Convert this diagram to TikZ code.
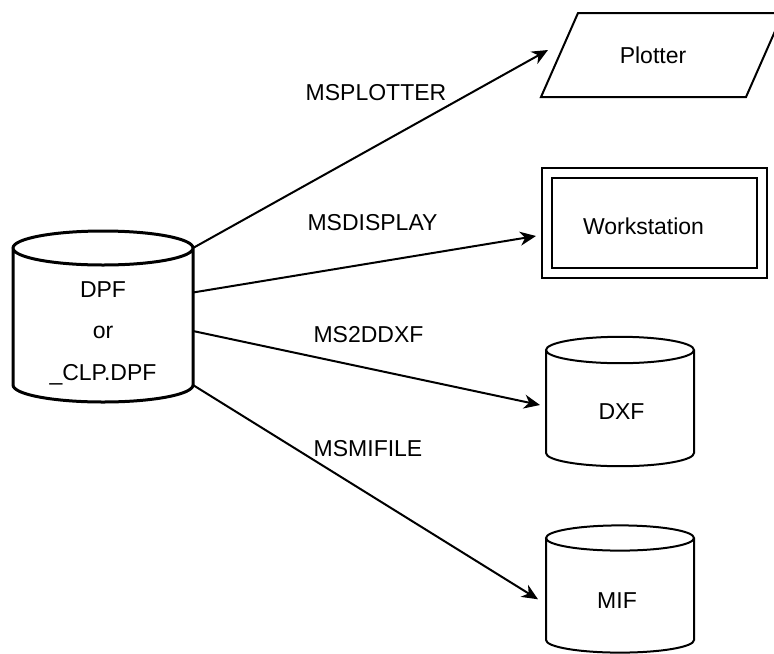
\documentclass[tikz,border=0pt]{standalone}
\usepackage{fontspec}
\setmainfont{Liberation Sans}
\usetikzlibrary{arrows.meta}

\tikzset{
  frame/.style={inner sep=0pt,outer sep=0pt},
  drum/.style={line width=1pt,fill=white},
  flow/.style={line width=1pt,-{Stealth[length=8pt,width=7pt,inset=2.5pt]}},
}

\begin{document}
\begin{tikzpicture}[x=0.5pt,y=-0.5pt,font=\fontsize{11.5}{13.8}\selectfont]
  \useasboundingbox (0,0) rectangle (774,653);
  % frames of the shapes
  \node[frame,minimum width=90pt,minimum height=68.5pt] (dpf) at (103,316.5) {};
  \node[frame,minimum width=102.5pt,minimum height=42pt] (plotter) at (662,55) {};
  \node[frame,draw,double,double distance=4pt,line width=1pt,minimum width=107.8pt,minimum height=50.25pt] (ws) at (654.5,223) {};
  \node[frame,minimum width=74pt,minimum height=51.5pt] (dxf) at (620,401.5) {};
  \node[frame,minimum width=74pt,minimum height=51pt] (mif) at (620,589) {};

  % source drum
  \draw[drum,line width=1.5pt] (dpf.north west) -- (dpf.south west)
    arc[start angle=180,end angle=360,x radius=45pt,y radius=8.5pt] -- (dpf.north east)
    arc[start angle=0,end angle=180,x radius=45pt,y radius=8.5pt]
    arc[start angle=180,end angle=360,x radius=45pt,y radius=8.5pt];
  % output drums
  \draw[drum] (dxf.north west) -- (dxf.south west)
    arc[start angle=180,end angle=360,x radius=37pt,y radius=6.6pt] -- (dxf.north east)
    arc[start angle=0,end angle=180,x radius=37pt,y radius=6.6pt]
    arc[start angle=180,end angle=360,x radius=37pt,y radius=6.6pt];
  \draw[drum] (mif.north west) -- (mif.south west)
    arc[start angle=180,end angle=360,x radius=37pt,y radius=6.3pt] -- (mif.north east)
    arc[start angle=0,end angle=180,x radius=37pt,y radius=6.3pt]
    arc[start angle=180,end angle=360,x radius=37pt,y radius=6.3pt];
  % plotter
  \draw[line width=1pt] ([xshift=-9.25pt]plotter.south west) -- ([xshift=9.25pt]plotter.north west)
    -- ([xshift=9.25pt]plotter.north east) -- ([xshift=-9.25pt]plotter.south east) -- cycle;

  \node[align=center,font=\fontsize{11.5}{20.75}\selectfont] (dpftxt) at ([yshift=-8.25pt]dpf.center) {DPF\\or\\\_CLP.DPF};
  \node (plottxt) at ([xshift=-4.5pt]plotter.center) {Plotter};
  \node (wstxt) at ([shift={(-5.5pt,-1.5pt)}]ws.center) {Workstation};
  \node (dxftxt) at ([shift={(0.75pt,-5.25pt)}]dxf.center) {DXF};
  \node (miftxt) at ([shift={(-1.5pt,-5.75pt)}]mif.center) {MIF};

  % translators
  \draw[flow] (dpf.north east) -- ([shift={(-5.75pt,2.5pt)}]plotter.west);
  \draw[flow] ([yshift=12pt]dpf.east) -- ([shift={(-5.35pt,-6.5pt)}]ws.west);
  \draw[flow] ([yshift=-7.25pt]dpf.east) -- ([shift={(-3pt,-1.75pt)}]dxf.west);
  \draw[flow] (dpf.south east) -- ([shift={(-4pt,-5.15pt)}]mif.west);
  \node (lplot) at (376,92.5) {MSPLOTTER};
  \node (ldisp) at (372.5,222.5) {MSDISPLAY};
  \node (ldxf) at (368.5,335) {MS2DDXF};
  \node (lmif) at (368,449) {MSMIFILE};
\end{tikzpicture}
\end{document}
